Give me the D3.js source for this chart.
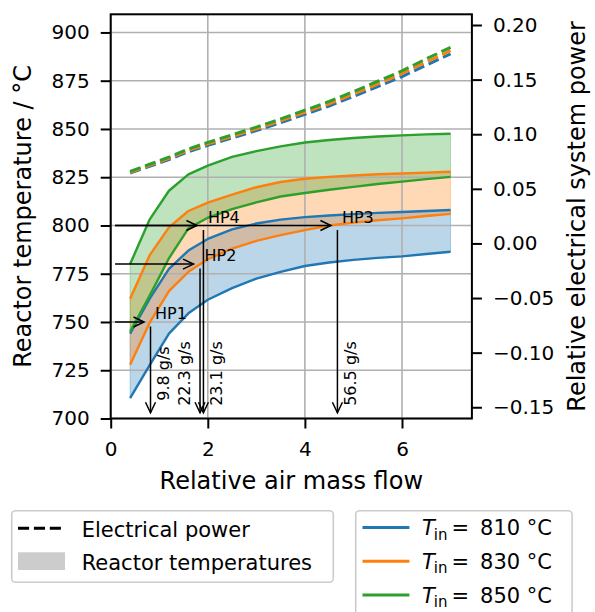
<!DOCTYPE html>
<html><head><meta charset="utf-8">
<script src="https://cdn.jsdelivr.net/npm/d3@7"></script>
<style>body{margin:0;background:#fff} svg text{font-family:"DejaVu Sans",sans-serif}</style>
</head><body><svg id="c" width="595" height="612"></svg>
<script>
// ---------- data ----------
const flow = [0.4,0.8,1.2,1.6,2.0,2.5,3.0,3.5,4.0,4.5,5.0,5.5,6.0,6.5,7.0];
const tempUpper810 = [744,762,777.5,787,793,798,801,803,804.3,805.2,805.9,806.5,807,807.5,808];
const tempLower810 = [710.5,727.5,744,754.5,761.5,767.5,772.5,776,779,780.8,782.2,783.2,784,785.2,786.4];
const tempUpper830 = [762,784.5,799,807.5,811.8,816,819.8,822.5,824.2,825.2,825.9,826.5,826.9,827.4,827.8];
const tempLower830 = [727.8,749.5,766,776,782.5,788,792,795,797.6,800,801.5,802.7,803.7,804.9,806];
const tempUpper850 = [780,803,818,826.5,831,835.5,838.5,841,843,844.3,845.3,846.1,846.7,847.2,847.5];
const tempLower850 = [745,763.5,783,798.5,804,808.5,812,815,816.8,818.5,820,821.5,822.7,824,825.2];
const power810 = [0.0645,0.0705,0.0768,0.084,0.0898,0.0965,0.1033,0.1105,0.1182,0.1258,0.1345,0.1436,0.1528,0.1632,0.1735];
const power830 = [0.0652,0.0715,0.0779,0.0852,0.0911,0.098,0.1049,0.1122,0.1201,0.1279,0.1367,0.146,0.1554,0.1661,0.1765];
const power850 = [0.066,0.0725,0.079,0.0865,0.0925,0.0995,0.1065,0.114,0.122,0.130,0.139,0.1485,0.158,0.169,0.1795];
const inletTemps = ["810","830","850"];
const seriesColors = ["#1f77b4","#ff7f0e","#2ca02c"];
const xTicks = [0,2,4,6];
const yTicksLeft = [700,725,750,775,800,825,850,875,900];
const yTicksRight = [-0.15,-0.10,-0.05,0,0.05,0.10,0.15,0.20];
const hpNames = ["HP1","HP2","HP3","HP4"];
const hpFlow = [0.82,1.84,4.67,1.91];
const hpTemp = [750,780,800,800];
const hpMass = ["9.8 g/s","22.3 g/s","56.5 g/s","23.1 g/s"];
const hpLabelSide = [1,-1,1,1];
const arrowStartFlow = 0.09, arrowEndTemp = 703, massLabelTemp = 723.3;

// ---------- setup ----------
const svg = d3.select("#c");
svg.append("rect").attr("width",595).attr("height",612).attr("fill","#fff");
const L=110.7, R=471.9, T=14.3, B=418.5;
const x = d3.scaleLinear([0,7.44],[L,R]);
const yL = d3.scaleLinear([700,909.4],[B,T]);
const yR = d3.scaleLinear([-0.1603,0.2098],[B,T]);

const uppers=[tempUpper810,tempUpper830,tempUpper850];
const lowers=[tempLower810,tempLower830,tempLower850];
const powers=[power810,power830,power850];

// fills
const area = d3.area().x(d=>x(d[0])).y0(d=>yL(d[1])).y1(d=>yL(d[2]));
for(let i=0;i<3;i++){
  const pts = flow.map((f,j)=>[f,lowers[i][j],uppers[i][j]]);
  svg.append("path").attr("d",area(pts)).attr("fill",seriesColors[i]).attr("fill-opacity",0.3)
    .attr("stroke",seriesColors[i]).attr("stroke-opacity",0.3).attr("stroke-width",1);
}
// grid
const grid = svg.append("g").attr("stroke","#b0b0b0").attr("stroke-width",1.6);
xTicks.forEach(v=>grid.append("line").attr("x1",x(v)).attr("x2",x(v)).attr("y1",T).attr("y2",B));
yTicksLeft.forEach(v=>grid.append("line").attr("x1",L).attr("x2",R).attr("y1",yL(v)).attr("y2",yL(v)));

// curves
const lineT = d3.line().x(d=>x(d[0])).y(d=>yL(d[1]));
for(let i=0;i<3;i++){
  [uppers[i],lowers[i]].forEach(arr=>{
    svg.append("path").attr("d",lineT(flow.map((f,j)=>[f,arr[j]]))).attr("fill","none")
      .attr("stroke",seriesColors[i]).attr("stroke-width",2.4).attr("stroke-linejoin","round");
  });
}

// annotations
function arrow(g,x1,y1,x2,y2){
  g.append("line").attr("x1",x1).attr("y1",y1).attr("x2",x2).attr("y2",y2);
  const dx=x2-x1, dy=y2-y1, len=Math.hypot(dx,dy), ux=dx/len, uy=dy/len;
  const hl=10.5, hw=5;
  const bx=x2-ux*hl, by=y2-uy*hl;
  g.append("path").attr("fill","none")
    .attr("d",`M${bx-uy*hw},${by+ux*hw}L${x2},${y2}L${bx+uy*hw},${by-ux*hw}`);
}
const ann = svg.append("g").attr("stroke","#000").attr("stroke-width",1.5);
const annT = svg.append("g");
hpNames.forEach((n,i)=>{
  const px=x(hpFlow[i]), py=yL(hpTemp[i]);
  arrow(ann,x(arrowStartFlow),py,px-6.5,py);
  arrow(ann,px,py+4.5,px,yL(arrowEndTemp));
  annT.append("text").attr("x",px+4.5).attr("y",py-2.7).attr("font-size",16).text(n);
  const bx = hpLabelSide[i]>0 ? px+18.5 : px-10;
  annT.append("text").attr("transform",`translate(${bx},${yL(massLabelTemp)}) rotate(-90)`)
    .attr("text-anchor","middle").attr("font-size",16).text(hpMass[i]);
});

// power dashed lines (twin axis)
const lineP = d3.line().x(d=>x(d[0])).y(d=>yR(d[1]));
for(let i=0;i<3;i++){
  svg.append("path").attr("d",lineP(flow.map((f,j)=>[f,powers[i][j]]))).attr("fill","none")
    .attr("stroke",seriesColors[i]).attr("stroke-width",3).attr("stroke-dasharray","11.1,4.8");
}

// spines
svg.append("rect").attr("x",L).attr("y",T).attr("width",R-L).attr("height",B-T)
  .attr("fill","none").attr("stroke","#000").attr("stroke-width",2);

// axes
function styleAxis(g){
  g.select(".domain").remove();
  g.selectAll(".tick line").attr("stroke","#000").attr("stroke-width",2);
  g.selectAll(".tick text").attr("fill","#000").attr("font-size",20);
  g.attr("font-family",null).attr("font-size",null);
}
svg.append("g").attr("transform",`translate(0,${B})`)
  .call(d3.axisBottom(x).tickValues(xTicks).tickFormat(d3.format("d")).tickSize(10).tickPadding(13)).call(styleAxis);
svg.append("g").attr("transform",`translate(${L},0)`)
  .call(d3.axisLeft(yL).tickValues(yTicksLeft).tickFormat(d3.format("d")).tickSize(10).tickPadding(11)).call(styleAxis);
svg.append("g").attr("transform",`translate(${R},0)`)
  .call(d3.axisRight(yR).tickValues(yTicksRight).tickFormat(d3.format(".2f")).tickSize(10).tickPadding(11)).call(styleAxis);

// axis labels
svg.append("text").attr("x",(L+R)/2).attr("y",488.5).attr("text-anchor","middle").attr("font-size",24).text("Relative air mass flow");
svg.append("text").attr("transform",`translate(30.8,${(T+B)/2}) rotate(-90)`).attr("text-anchor","middle").attr("font-size",24).text("Reactor temperature / °C");
svg.append("text").attr("transform",`translate(585,${(T+B)/2}) rotate(-90)`).attr("text-anchor","middle").attr("font-size",24).text("Relative electrical system power");

// legend 1
const lg1 = svg.append("g");
lg1.append("rect").attr("x",11.7).attr("y",510.7).attr("width",321.6).attr("height",71.6).attr("rx",4)
  .attr("fill","#fff").attr("fill-opacity",0.8).attr("stroke","#cccccc").attr("stroke-width",1.6);
lg1.append("line").attr("x1",18).attr("x2",63).attr("y1",528.3).attr("y2",528.3)
  .attr("stroke","#000").attr("stroke-width",3).attr("stroke-dasharray","11.1,4.8");
lg1.append("rect").attr("x",18).attr("y",552.3).attr("width",47).attr("height",17.7).attr("fill","#cccccc");
lg1.append("text").attr("x",81.7).attr("y",536.5).attr("font-size",21).text("Electrical power");
lg1.append("text").attr("x",81.7).attr("y",570).attr("font-size",21).text("Reactor temperatures");

// legend 2
const lg2 = svg.append("g");
lg2.append("rect").attr("x",355.7).attr("y",510.7).attr("width",216.4).attr("height",120).attr("rx",4)
  .attr("fill","#fff").attr("fill-opacity",0.8).attr("stroke","#cccccc").attr("stroke-width",1.6);
inletTemps.forEach((t,i)=>{
  const yy = 527.5 + i*33.8;
  lg2.append("line").attr("x1",362.5).attr("x2",409.4).attr("y1",yy).attr("y2",yy)
    .attr("stroke",seriesColors[i]).attr("stroke-width",3);
  const tx = lg2.append("text").attr("x",421.9).attr("y",yy+7.5).attr("font-size",21);
  tx.append("tspan").attr("font-style","italic").text("T");
  tx.append("tspan").attr("font-size",15).attr("dy",4.5).attr("dx",-1).text("in");
  tx.append("tspan").attr("dy",-4.5).text("\u2009= \u2009" + t + " °C");
});
</script></body></html>
